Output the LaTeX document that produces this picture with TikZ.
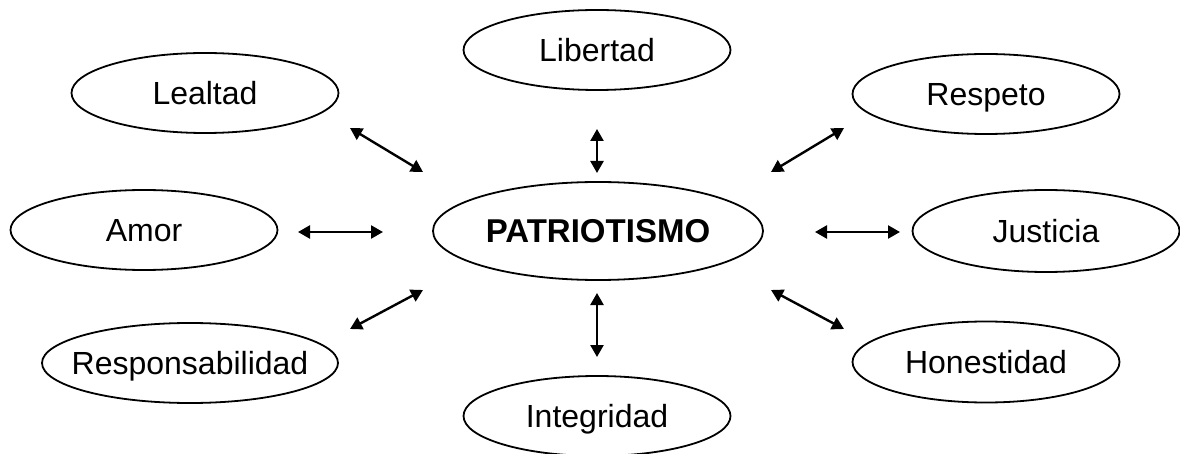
\documentclass[tikz,border=0pt]{standalone}
\usepackage{fontspec}
\setmainfont{Liberation Sans}
\usetikzlibrary{shapes.geometric,arrows.meta}
\begin{document}
\begin{tikzpicture}[x=1pt,y=-1pt,
  oval/.style={ellipse,draw,line width=1.8pt,minimum width=267pt,minimum height=80pt,inner xsep=-30pt,inner ysep=0pt,
    text height=23pt,text depth=0pt,font=\fontsize{32}{38}\selectfont},
  dbl/.style={line width=2.4pt,{Triangle[length=12pt,width=13pt]}-{Triangle[length=12pt,width=13pt]}}]
\useasboundingbox (0,0) rectangle (1180,454);
\node[oval,minimum width=330pt,minimum height=98pt,text height=24pt,font=\fontsize{33}{38}\selectfont\bfseries] (c) at (598,231) {PATRIOTISMO};
\node[oval] (lib) at (597,50) {Libertad};
\node[oval] (lea) at (205,93) {Lealtad};
\node[oval] (res) at (986,94) {Respeto};
\node[oval] (amo) at (144,230) {Amor};
\node[oval,minimum height=82pt] (jus) at (1046,231) {Justicia};
\node[oval,minimum width=296pt] (rsp) at (190,363) {Responsabilidad};
\node[oval,minimum height=81pt] (hon) at (986,362) {Honestidad};
\node[oval] (int) at (597,416) {Integridad};
% arrow end points
\coordinate (l1) at (597,129); \coordinate (l2) at (597,173);
\coordinate (e1) at (350,128); \coordinate (e2) at (423,172);
\coordinate (r1) at (844,128); \coordinate (r2) at (771,172);
\coordinate (m1) at (298,232); \coordinate (m2) at (383,232);
\coordinate (j1) at (815,232); \coordinate (j2) at (900,232);
\coordinate (p1) at (350,329); \coordinate (p2) at (423,290);
\coordinate (h1) at (844,329); \coordinate (h2) at (771,290);
\coordinate (i1) at (597,293); \coordinate (i2) at (597,357);
\draw[dbl] (l1) -- (l2);
\draw[dbl] (e1) -- (e2);
\draw[dbl] (r1) -- (r2);
\draw[dbl] (m1) -- (m2);
\draw[dbl] (j1) -- (j2);
\draw[dbl] (p1) -- (p2);
\draw[dbl] (h1) -- (h2);
\draw[dbl] (i1) -- (i2);
\end{tikzpicture}
\end{document}
